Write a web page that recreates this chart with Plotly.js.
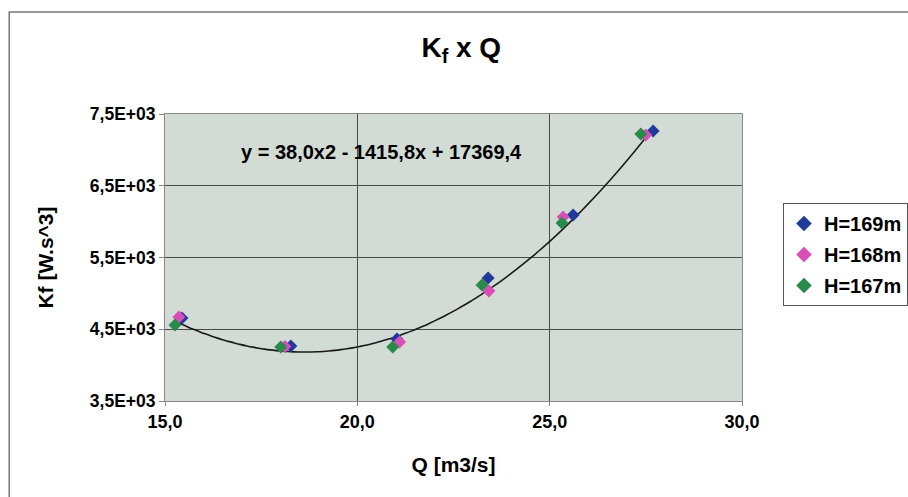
<!DOCTYPE html>
<html>
<head>
<meta charset="utf-8">
<script src="https://cdn.plot.ly/plotly-3.0.1.min.js"></script>
<style>html,body{margin:0;padding:0;background:#fff;}#chart{width:908px;height:497px;}</style>
</head>
<body>
<div id="chart"></div>
<script>
// Series data (Q [m3/s], Kf [W.s^3])
const seriesNames = ["H=169m", "H=168m", "H=167m"];
const q169 = [15.44, 18.27, 21.03, 23.40, 25.61, 27.69];
const kf169 = [4657, 4267, 4364, 5214, 6092, 7263];
const q168 = [15.36, 18.12, 21.10, 23.42, 25.35, 27.50];
const kf168 = [4671, 4258, 4322, 5033, 6064, 7207];
const q167 = [15.26, 18.01, 20.92, 23.24, 25.32, 27.37];
const kf167 = [4559, 4253, 4253, 5117, 5981, 7221];
const colors = ["#1f3a9a", "#d94fb8", "#2a8a4c"];

// Trendline from the displayed equation y = 38,0x2 - 1415,8x + 17369,4
const trendCoef = [38.0, -1415.8, 17369.4];
const trendRange = [15.3, 27.5];
const trendLabel = "y = 38,0x2 - 1415,8x + 17369,4";

// Axis ticks
const xTickVals = [15, 20, 25, 30];
const xTickText = ["15,0", "20,0", "25,0", "30,0"];
const yTickVals = [3500, 4500, 5500, 6500, 7500];
const yTickText = ["3,5E+03", "4,5E+03", "5,5E+03", "6,5E+03", "7,5E+03"];

const b = s => "<b>" + s + "</b>";
const tx = [], ty = [];
const steps = 80;
for (let i = 0; i <= steps; i++) {
  const x = trendRange[0] + (trendRange[1] - trendRange[0]) * i / steps;
  tx.push(x);
  ty.push(trendCoef[0] * x * x + trendCoef[1] * x + trendCoef[2]);
}

const font = "Liberation Sans, Arial, sans-serif";
const qs = [q169, q168, q167], ks = [kf169, kf168, kf167];
const traces = [{
  x: tx, y: ty, mode: "lines", type: "scatter", showlegend: false,
  line: {color: "#1a1a1a", width: 1.6, shape: "spline"}, hoverinfo: "skip"
}];
seriesNames.forEach((n, i) => {
  traces.push({
    x: qs[i], y: ks[i], mode: "markers", type: "scatter", name: b(n),
    legendgroup: "g" + i,
    marker: {symbol: "diamond", size: 10, color: colors[i]}
  });
});

const layout = {
  width: 908, height: 497,
  margin: {l: 165, r: 166, t: 114, b: 96, autoexpand: false},
  paper_bgcolor: "#ffffff",
  plot_bgcolor: "#d3dbd5",
  font: {family: font, color: "#000"},
  title: {
    text: b("K<sub>f</sub> x Q"),
    font: {family: font, size: 28, color: "#000"},
    x: 0.508, xanchor: "center", y: 0.905, yanchor: "middle"
  },
  xaxis: {
    range: [15, 30], tickvals: xTickVals, ticktext: xTickText.map(b),
    showgrid: true, gridcolor: "#4a4a4a", gridwidth: 1,
    showline: true, linecolor: "#888", linewidth: 1, mirror: true,
    ticks: "outside", ticklen: 4, tickcolor: "#888",
    zeroline: false, automargin: false,
    tickfont: {family: font, size: 18, color: "#000"},
    title: {text: b("Q [m3/s]"), font: {family: font, size: 21, color: "#000"}, standoff: 26}
  },
  yaxis: {
    range: [3500, 7500], tickvals: yTickVals, ticktext: yTickText.map(b),
    showgrid: true, gridcolor: "#4a4a4a", gridwidth: 1,
    showline: true, linecolor: "#888", linewidth: 1, mirror: true,
    ticks: "outside", ticklen: 5, tickcolor: "#888",
    zeroline: false, automargin: false,
    tickfont: {family: font, size: 17.5, color: "#000"},
    title: {text: b("Kf [W.s^3]"), font: {family: font, size: 21, color: "#000"}, standoff: 30}
  },
  legend: {
    x: 1.071, xanchor: "left", y: 0.69, yanchor: "top",
    bgcolor: "#ffffff", bordercolor: "#555", borderwidth: 1,
    font: {family: font, size: 20, color: "#000"},
    tracegroupgap: 2, itemsizing: "constant", itemwidth: 30
  },
  annotations: [{
    x: 20.64, y: 6970, xref: "x", yref: "y", text: b(trendLabel), showarrow: false,
    font: {family: font, size: 20, color: "#000"}
  }],
  shapes: [{
    type: "rect", xref: "paper", yref: "paper",
    x0: -0.27, x1: 1.6, y0: -0.6, y1: 1.355,
    line: {color: "#777", width: 1.5}, layer: "below"
  }]
};

Plotly.newPlot("chart", traces, layout, {displayModeBar: false, staticPlot: true});
</script>
</body>
</html>
